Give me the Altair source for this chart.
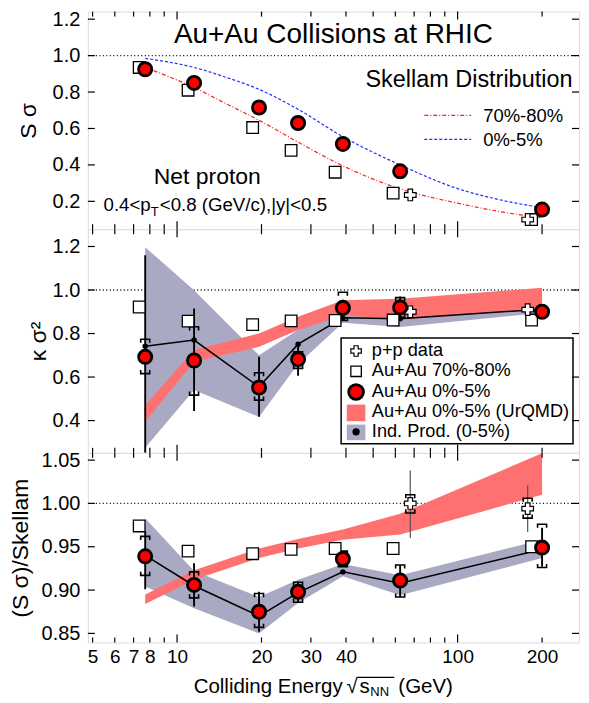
import altair as alt
import pandas as pd

FONT = "Liberation Sans"

# ---------------- data ----------------
energy = [7.7, 11.5, 19.6, 27, 39, 62.4, 200]
energy_periph = [7.33, 10.95, 18.6, 25.5, 36.6, 58.9, 183.5]
energy_pp = [67.8, 177.7]

# panel 1 : S sigma
ss_central = [0.925, 0.85, 0.715, 0.63, 0.515, 0.365, 0.155]
ss_periph = [0.935, 0.81, 0.605, 0.48, 0.36, 0.245, 0.10]
ss_pp = [0.235, 0.10]
skellam_energy = [7.7, 11.5, 15, 19.6, 27, 39, 62.4, 100, 140, 200]
skellam_central = [0.985, 0.935, 0.88, 0.815, 0.705, 0.555, 0.40, 0.27, 0.21, 0.165]
skellam_periph = [0.935, 0.825, 0.735, 0.645, 0.525, 0.395, 0.268, 0.19, 0.145, 0.11]

# panel 2 : kappa sigma^2
kv_central = [0.693, 0.676, 0.552, 0.682, 0.918, 0.92, 0.90]
kv_stat_lo = [0.22, 0.444, 0.418, 0.606, 0.885, 0.87, 0.885]
kv_stat_hi = [1.16, 0.915, 0.693, 0.745, 0.955, 0.97, 0.915]
kv_sys_lo = [0.616, 0.517, 0.494, 0.64, 0.86, 0.875, 0.89]
kv_sys_hi = [0.774, 0.831, 0.62, 0.716, 0.99, 0.965, 0.91]
kv_periph = [0.922, 0.857, 0.841, 0.858, 0.86, 0.862, 0.862]
kv_pp = [0.90, 0.91]
kv_ind = [0.742, 0.77, 0.555, 0.751, 0.872, 0.868, 0.912]
kv_ind_lo = [0.275, 0.54, 0.417, 0.66, 0.85, 0.83, 0.895]
kv_ind_hi = [1.197, 0.999, 0.70, 0.817, 0.905, 0.90, 0.93]
kv_urqmd_lo = [0.395, 0.67, 0.739, 0.816, 0.884, 0.866, 0.912]
kv_urqmd_hi = [0.471, 0.724, 0.80, 0.877, 0.953, 0.96, 1.01]

# panel 3 : (S sigma)/Skellam
sr_central = [0.939, 0.906, 0.875, 0.898, 0.936, 0.911, 0.949]
sr_stat_lo = [0.901, 0.881, 0.852, 0.885, 0.927, 0.892, 0.927]
sr_stat_hi = [0.968, 0.931, 0.898, 0.91, 0.945, 0.929, 0.972]
sr_sys_lo = [0.917, 0.891, 0.857, 0.886, 0.927, 0.892, 0.926]
sr_sys_hi = [0.962, 0.921, 0.896, 0.909, 0.945, 0.929, 0.976]
sr_periph = [0.974, 0.945, 0.942, 0.947, 0.948, 0.948, 0.95]
sr_pp = [1.0, 0.994]
sr_pp_stat_lo = [0.96, 0.967]
sr_pp_stat_hi = [1.038, 1.021]
sr_pp_sys_lo = [0.989, 0.983]
sr_pp_sys_hi = [1.01, 1.006]
sr_ind = [0.94, 0.905, 0.87, 0.897, 0.921, 0.908, 0.947]
sr_ind_lo = [0.904, 0.879, 0.85, 0.885, 0.916, 0.894, 0.937]
sr_ind_hi = [0.983, 0.922, 0.892, 0.912, 0.93, 0.917, 0.958]
sr_urqmd_lo = [0.884, 0.912, 0.937, 0.948, 0.958, 0.964, 1.01]
sr_urqmd_hi = [0.895, 0.923, 0.948, 0.959, 0.97, 0.988, 1.058]

# axes / ticks
x_labels = [5, 6, 7, 8, 10, 20, 30, 40, 100, 200]
x_major = [10, 100]
x_minor = [5, 6, 7, 8, 9, 20, 30, 40, 50, 60, 70, 80, 90, 200]
y1_ticks = [0.2, 0.4, 0.6, 0.8, 1.0, 1.2]
y2_ticks = [0.4, 0.6, 0.8, 1.0, 1.2]
y3_ticks = [0.85, 0.90, 0.95, 1.00, 1.05]
ref_line = [1.0]

# texts
title_text = "Au+Au Collisions at RHIC"
skellam_text = "Skellam Distribution"
skellam_labels = ["70%-80%", "0%-5%"]
netp_text = "Net proton"
cut_parts = ["0.4<p", "T", "<0.8 (GeV/c),|y|<0.5"]
legend_labels = ["p+p data", "Au+Au 70%-80%", "Au+Au 0%-5%", "Au+Au 0%-5% (UrQMD)", "Ind. Prod. (0-5%)"]
ytitles = ["S σ", "κ σ²", "(S σ)/Skellam"]
xtitle_parts = ["Colliding Energy", "√", "s", "NN", "(GeV)"]

# ---------------- styling ----------------
W = 492
H1, H2, H3 = 218, 224, 190
RED = "#ff0000"
GRAY = "#a9a9c3"
CHECK = "#ff7070"
TOP_BR = "M -1 0.8 L -1 0 L 1 0 L 1 0.8"
BOT_BR = "M -1 -0.8 L -1 0 L 1 0 L 1 -0.8"
TFS = 23

xscale = alt.Scale(type="log", domain=[4.81, 270.8], nice=False)
xaxis3 = alt.Axis(values=x_labels, format="d", labelFontSize=19, labelFont=FONT,
                  labelPadding=5, ticks=False, tickSize=0, domain=False, grid=False,
                  title=None, labelOverlap=False, labelFlush=False, labelColor="black")


def make_x(axis):
    def X(field):
        return alt.X(f"{field}:Q", scale=xscale, axis=axis)
    return X


def make_y(dom, vals, fmt, title, title_x, h):
    scale = alt.Scale(domain=dom, nice=False, zero=False)
    axis = alt.Axis(values=vals, format=fmt, title=title, titleX=title_x, titleY=h / 2,
                    titleAngle=270, titleAlign="center", titleBaseline="alphabetic",
                    titleFontSize=TFS, titleFontWeight="normal", titleFont=FONT,
                    titleColor="black", labelColor="black",
                    labelFontSize=20, labelFont=FONT, labelPadding=8, ticks=False, tickSize=0,
                    domain=False, grid=False, minExtent=45, maxExtent=45)

    def Y(field):
        return alt.Y(f"{field}:Q", scale=scale, axis=axis)
    return Y


def frame_ticks(X, Y, yvals, h):
    lay = []
    for vals, L in ((x_major, 8), (x_minor, 5)):
        d = pd.DataFrame({"t": vals})
        lay.append(alt.Chart(d).mark_rule(color="black", strokeWidth=1.2).encode(
            x=X("t"), y=alt.value(h), y2=alt.value(h - L)))
        lay.append(alt.Chart(d).mark_rule(color="black", strokeWidth=1.2).encode(
            x=X("t"), y=alt.value(0), y2=alt.value(L)))
    d = pd.DataFrame({"t": yvals})
    lay.append(alt.Chart(d).mark_rule(color="black", strokeWidth=1.2).encode(
        y=Y("t"), x=alt.value(0), x2=alt.value(7)))
    lay.append(alt.Chart(d).mark_rule(color="black", strokeWidth=1.2).encode(
        y=Y("t"), x=alt.value(W), x2=alt.value(W - 7)))
    return lay


def ref(Y):
    return alt.Chart(pd.DataFrame({"t": ref_line})).mark_rule(
        color="black", strokeWidth=1.3, strokeDash=[1, 2.5]).encode(y=Y("t"))


def text(label, x, y, size, align="left", baseline="middle", color="black"):
    return alt.Chart(pd.DataFrame({"label": [label]})).mark_text(
        font=FONT, fontSize=size, align=align, baseline=baseline, color=color).encode(
        x=alt.value(x), y=alt.value(y), text="label:N")


def circles(X, Y, e, v, size=175):
    return alt.Chart(pd.DataFrame({"e": e, "v": v})).mark_point(
        shape="circle", filled=True, fill=RED, stroke="black", strokeWidth=2.8,
        size=size, opacity=1, fillOpacity=1, strokeOpacity=1).encode(x=X("e"), y=Y("v"))


def squares(X, Y, e, v):
    return alt.Chart(pd.DataFrame({"e": e, "v": v})).mark_point(
        shape="square", filled=True, fill="white", stroke="black", strokeWidth=1.3,
        size=135, opacity=1, fillOpacity=1, strokeOpacity=1).encode(x=X("e"), y=Y("v"))


def crosses(X, Y, e, v):
    return alt.Chart(pd.DataFrame({"e": e, "v": v})).mark_point(
        shape="cross", filled=True, fill="white", stroke="black", strokeWidth=1.2,
        size=135, opacity=1, fillOpacity=1, strokeOpacity=1).encode(x=X("e"), y=Y("v"))


def band(X, Y, e, lo, hi, color):
    return alt.Chart(pd.DataFrame({"e": e, "lo": lo, "hi": hi})).mark_area(
        color=color, opacity=1, clip=True).encode(x=X("e"), y=Y("lo"), y2=alt.Y2("hi:Q"))


def ind_line(X, Y, e, v):
    d = pd.DataFrame({"e": e, "v": v})
    return [alt.Chart(d).mark_line(color="black", strokeWidth=1.5).encode(x=X("e"), y=Y("v")),
            alt.Chart(d).mark_circle(color="black", size=30, opacity=1).encode(x=X("e"), y=Y("v"))]


def errors(X, Y, e, slo, shi, ylo, yhi, color="black", sw=1.9):
    d = pd.DataFrame({"e": e, "slo": slo, "shi": shi, "ylo": ylo, "yhi": yhi})
    return [alt.Chart(d).mark_rule(color=color, strokeWidth=sw, clip=True).encode(
                x=X("e"), y=Y("slo"), y2=alt.Y2("shi:Q")),
            alt.Chart(d).mark_point(shape=TOP_BR, size=81, filled=False, stroke="black",
                                    strokeWidth=1.6, opacity=1).encode(x=X("e"), y=Y("yhi")),
            alt.Chart(d).mark_point(shape=BOT_BR, size=81, filled=False, stroke="black",
                                    strokeWidth=1.6, opacity=1).encode(x=X("e"), y=Y("ylo"))]


def one():
    return pd.DataFrame({"a": [0]})


# ---------------- panel 1 ----------------
X12 = make_x(None)
Y1 = make_y([0.047, 1.2416], y1_ticks, ".1f", ytitles[0], -52.8, H1)
skel = pd.DataFrame({"e": skellam_energy, "c": skellam_central, "p": skellam_periph})
p1_layers = [
    ref(Y1),
    alt.Chart(skel).mark_line(color="#ff2020", strokeWidth=1.2, strokeDash=[4, 2, 1, 2],
                              interpolate="monotone").encode(x=X12("e"), y=Y1("p")),
    alt.Chart(skel).mark_line(color="#2030ff", strokeWidth=1.2, strokeDash=[3, 2],
                              interpolate="monotone").encode(x=X12("e"), y=Y1("c")),
    squares(X12, Y1, energy_periph, ss_periph),
    crosses(X12, Y1, energy_pp, ss_pp),
    circles(X12, Y1, energy, ss_central),
    text(title_text, 246, 23, 28, align="center"),
    text(skellam_text, 278, 69, 23.5),
    text(skellam_labels[0], 396, 105, 18.5),
    text(skellam_labels[1], 396, 129, 18.5),
    alt.Chart(one()).mark_rule(color="#ff2020", strokeWidth=1.2, strokeDash=[4, 2, 1, 2]).encode(
        x=alt.value(337), x2=alt.value(384), y=alt.value(104)),
    alt.Chart(one()).mark_rule(color="#2030ff", strokeWidth=1.2, strokeDash=[3, 2]).encode(
        x=alt.value(337), x2=alt.value(384), y=alt.value(128)),
    text(netp_text, 66, 166, 23),
    text(cut_parts[0], 63, 194, 18.7, align="right"),
    text(cut_parts[1], 63, 201, 13),
    text(cut_parts[2], 72, 194, 18.7),
] + frame_ticks(X12, Y1, y1_ticks, H1)
panel1 = alt.layer(*p1_layers).properties(width=W, height=H1)

# ---------------- panel 2 ----------------
Y2 = make_y([0.2518, 1.2794], y2_ticks, ".1f", ytitles[1], -42.3, H2)
lx, tx = 268.7, 284.5
ly = [122, 142.3, 163, 183, 203]
p2_layers = [
    ref(Y2),
    band(X12, Y2, energy, kv_ind_lo, kv_ind_hi, GRAY),
    band(X12, Y2, energy, kv_urqmd_lo, kv_urqmd_hi, CHECK),
] + ind_line(X12, Y2, energy, kv_ind) + errors(
    X12, Y2, energy, kv_stat_lo, kv_stat_hi, kv_sys_lo, kv_sys_hi) + [
    squares(X12, Y2, energy_periph, kv_periph),
    crosses(X12, Y2, energy_pp, kv_pp),
    circles(X12, Y2, energy, kv_central),
    # legend
    alt.Chart(one()).mark_rect(fill="white", stroke="black", strokeWidth=1.5).encode(
        x=alt.value(253.7), x2=alt.value(486), y=alt.value(109), y2=alt.value(215)),
    alt.Chart(one()).mark_point(
        shape="cross", filled=True, fill="white", stroke="black", strokeWidth=1.2, size=110, opacity=1).encode(
        x=alt.value(lx), y=alt.value(ly[0])),
    alt.Chart(one()).mark_point(
        shape="square", filled=True, fill="white", stroke="black", strokeWidth=1.3, size=110, opacity=1).encode(
        x=alt.value(lx), y=alt.value(ly[1])),
    alt.Chart(one()).mark_point(
        shape="circle", filled=True, fill=RED, stroke="black", strokeWidth=2.8, size=220, opacity=1).encode(
        x=alt.value(lx), y=alt.value(ly[2])),
    alt.Chart(one()).mark_rect(fill=CHECK).encode(
        x=alt.value(lx - 9.3), x2=alt.value(lx + 9.3), y=alt.value(175.7), y2=alt.value(192.3)),
    alt.Chart(one()).mark_rect(fill=GRAY).encode(
        x=alt.value(lx - 9.3), x2=alt.value(lx + 9.3), y=alt.value(195.7), y2=alt.value(211.3)),
    alt.Chart(one()).mark_circle(color="black", size=55, opacity=1).encode(
        x=alt.value(lx), y=alt.value(ly[4])),
] + [text(lab, tx, yy, 18.2) for lab, yy in zip(legend_labels, ly)] + frame_ticks(X12, Y2, y2_ticks, H2)
panel2 = alt.layer(*p2_layers).properties(width=W, height=H2)

# ---------------- panel 3 ----------------
X3 = make_x(xaxis3)
Y3 = make_y([0.8395, 1.0584], y3_ticks, ".2f", ytitles[2], -79.3 + 0.8 * TFS, H3)
p3_layers = [
    ref(Y3),
    band(X3, Y3, energy, sr_ind_lo, sr_ind_hi, GRAY),
    band(X3, Y3, energy, sr_urqmd_lo, sr_urqmd_hi, CHECK),
] + ind_line(X3, Y3, energy, sr_ind) + errors(
    X3, Y3, energy, sr_stat_lo, sr_stat_hi, sr_sys_lo, sr_sys_hi) + errors(
    X3, Y3, energy_pp, sr_pp_stat_lo, sr_pp_stat_hi, sr_pp_sys_lo, sr_pp_sys_hi, color="#555555", sw=1.2) + [
    squares(X3, Y3, energy_periph, sr_periph),
    crosses(X3, Y3, energy_pp, sr_pp),
    circles(X3, Y3, energy, sr_central),
    text(xtitle_parts[0], 106, 240.5, 20.5, baseline="alphabetic"),
    text(xtitle_parts[1], 259, 240.5, 20.5, baseline="alphabetic"),
    text(xtitle_parts[2], 272, 240.5, 20.5, baseline="alphabetic"),
    text(xtitle_parts[3], 283, 244, 13, baseline="alphabetic"),
    text(xtitle_parts[4], 311, 240.5, 20.5, baseline="alphabetic"),
    alt.Chart(one()).mark_rule(color="black", strokeWidth=1.2).encode(
        x=alt.value(270), x2=alt.value(307), y=alt.value(225)),
] + frame_ticks(X3, Y3, y3_ticks, H3)
panel3 = alt.layer(*p3_layers).properties(width=W, height=H3)

chart = alt.vconcat(panel1, panel2, panel3, spacing=0, bounds="flush").properties(
    padding={"left": 0, "top": 0, "right": 0, "bottom": 0}
).configure_view(stroke="black", strokeWidth=2.2).configure(font=FONT)

chart.save("out.html", embed_options={"renderer": "svg", "actions": False})
